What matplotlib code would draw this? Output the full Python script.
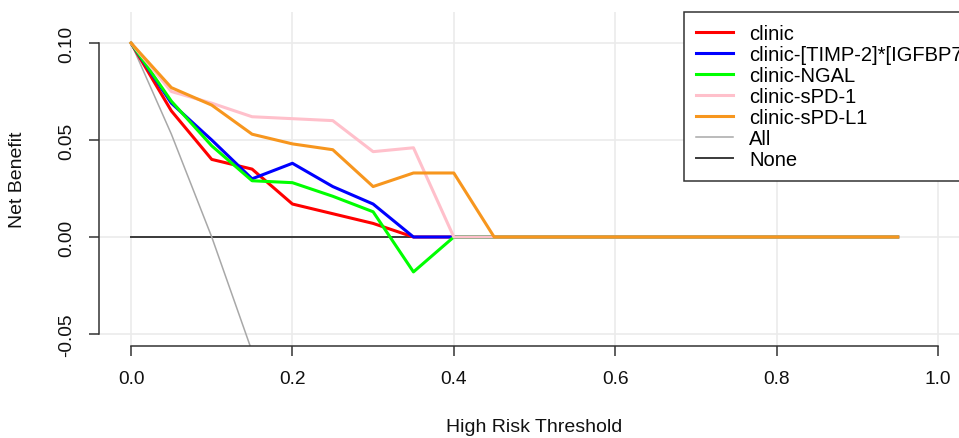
import matplotlib
matplotlib.use('Agg')
import matplotlib.pyplot as plt

# ----- data -------------------------------------------------------------------------
thresh = [0.00, 0.05, 0.10, 0.15, 0.20, 0.25, 0.30, 0.35, 0.40, 0.45,
          0.50, 0.55, 0.60, 0.65, 0.70, 0.75, 0.80, 0.85, 0.90, 0.95]

nb_clinic = [0.100, 0.065, 0.040, 0.035, 0.017, 0.012, 0.007, 0.0, 0.0, 0.0,
             0.0, 0.0, 0.0, 0.0, 0.0, 0.0, 0.0, 0.0, 0.0, 0.0]
nb_timp = [0.100, 0.069, 0.050, 0.030, 0.038, 0.026, 0.017, 0.0, 0.0, 0.0,
           0.0, 0.0, 0.0, 0.0, 0.0, 0.0, 0.0, 0.0, 0.0, 0.0]
nb_ngal = [0.100, 0.070, 0.047, 0.029, 0.028, 0.021, 0.013, -0.018, 0.0, 0.0,
           0.0, 0.0, 0.0, 0.0, 0.0, 0.0, 0.0, 0.0, 0.0, 0.0]
nb_spd1 = [0.100, 0.075, 0.069, 0.062, 0.061, 0.060, 0.044, 0.046, 0.0, 0.0,
           0.0, 0.0, 0.0, 0.0, 0.0, 0.0, 0.0, 0.0, 0.0, 0.0]
nb_spdl1 = [0.100, 0.077, 0.068, 0.053, 0.048, 0.045, 0.026, 0.033, 0.033, 0.0,
            0.0, 0.0, 0.0, 0.0, 0.0, 0.0, 0.0, 0.0, 0.0, 0.0]

thresh_all = [0.00, 0.05, 0.10, 0.15, 0.20]
nb_all = [0.100, 0.053, 0.000, -0.059, -0.125]

nb_none = [0.0] * len(thresh)

labels = ['clinic', 'clinic-[TIMP-2]*[IGFBP7]', 'clinic-NGAL',
          'clinic-sPD-1', 'clinic-sPD-L1', 'All', 'None']
colors = ['#FF0000', '#0000FF', '#00FF00', '#FFC0CB', '#F7961E', '#A8A8A8', '#3A3A3A']

xticks = [0.0, 0.2, 0.4, 0.6, 0.8, 1.0]
yticks = [-0.05, 0.00, 0.05, 0.10]

# ----- figure ---------------------------------------------------------------------------
plt.rcParams['font.family'] = ['Liberation Sans', 'DejaVu Sans']

W, H = 959, 439
fig = plt.figure(figsize=(W / 100., H / 100.), dpi=100)
# plot region in pixels (R style, runs past the right edge of the picture)
left, right, top, bottom = 99, 970, 13, 347
ax = fig.add_axes([left / W, (H - bottom) / H, (right - left) / W, (bottom - top) / H])
ax.set_xlim(-0.0397, 1.0397)
ax.set_ylim(-0.0562, 0.1160)

ax.set_xticks(xticks)
ax.set_yticks(yticks)
ax.set_xticklabels(['%.1f' % v for v in xticks])
ax.set_yticklabels(['%.2f' % v for v in yticks], rotation=90, va='center')

ax.grid(True, color='#EBEBEB', linewidth=1.2)
ax.set_axisbelow(True)

for s in ['top', 'right']:
    ax.spines[s].set_visible(False)
ax.spines['left'].set_bounds(-0.05, 0.10)
ax.spines['bottom'].set_bounds(0.0, 1.0)
for s in ['left', 'bottom']:
    ax.spines[s].set_color('#333333')
    ax.spines[s].set_linewidth(1.1)
ax.tick_params(direction='out', length=7, width=1.1, color='#333333',
               labelsize=13.8, labelcolor='#111111', pad=10)

# lines
ax.plot(thresh, nb_none, color=colors[6], linewidth=1.4, label=labels[6], zorder=2)
ax.plot(thresh_all, nb_all, color=colors[5], linewidth=1.1, label=labels[5], zorder=2)
ax.plot(thresh, nb_clinic, color=colors[0], linewidth=2.2, label=labels[0], zorder=3)
ax.plot(thresh, nb_timp, color=colors[1], linewidth=2.2, label=labels[1], zorder=3)
ax.plot(thresh, nb_ngal, color=colors[2], linewidth=2.2, label=labels[2], zorder=3)
ax.plot(thresh, nb_spd1, color=colors[3], linewidth=2.2, label=labels[3], zorder=3)
ax.plot(thresh, nb_spdl1, color=colors[4], linewidth=2.2, label=labels[4], zorder=3)

ax.set_xlabel('High Risk Threshold', fontsize=14, color='#111111')
ax.xaxis.set_label_coords(0.5, -(428 - bottom) / (bottom - top), transform=ax.transAxes)
ax.xaxis.label.set_va('center')
ax.set_ylabel('Net Benefit', fontsize=14, color='#111111')
ax.yaxis.set_label_coords(-(left - 18) / (right - left), 0.5, transform=ax.transAxes)
ax.yaxis.label.set_va('center')

# legend in R order
handles, labs = ax.get_legend_handles_labels()
order = [labs.index(l) for l in labels]
leg = fig.legend([handles[i] for i in order], [labs[i] for i in order],
                 loc='upper left', bbox_to_anchor=(684 / W, 1 - 13 / H),
                 fontsize=14.5, frameon=True, fancybox=False, framealpha=1,
                 edgecolor='#333333', borderpad=0.6, labelspacing=0.1,
                 handlelength=1.85, handletextpad=0.8, borderaxespad=0)
leg.get_frame().set_linewidth(1.1)
for h in leg.get_lines()[:5]:
    h.set_linewidth(2.2)

fig.savefig('out.png', dpi=100)
